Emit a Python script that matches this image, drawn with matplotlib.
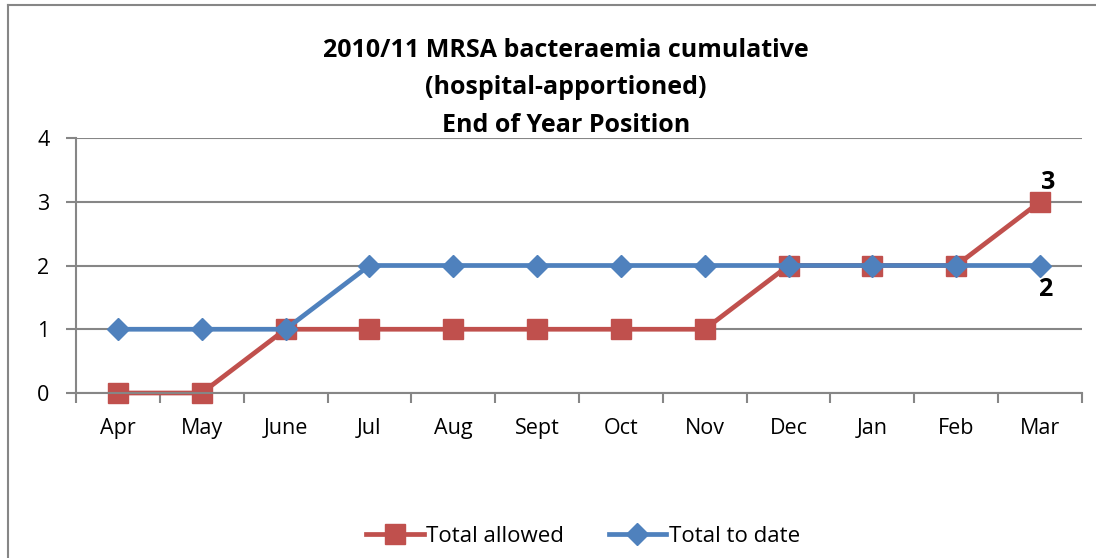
import matplotlib.pyplot as plt
import numpy as np
from matplotlib.lines import Line2D

months = ["Apr", "May", "June", "Jul", "Aug", "Sept", "Oct", "Nov", "Dec", "Jan", "Feb", "Mar"]
total_allowed = [0, 0, 1, 1, 1, 1, 1, 1, 2, 2, 2, 3]
total_to_date = [1, 1, 1, 2, 2, 2, 2, 2, 2, 2, 2, 2]

red = "#C0504D"
blue = "#4F81BD"
grey = "#868686"

plt.rcParams["font.family"] = ["Open Sans", "DejaVu Sans"]

fig = plt.figure(figsize=(10.96, 5.58), dpi=100)
ax = fig.add_axes([76 / 1096, 1 - 393 / 558, (1082 - 76) / 1096, (393 - 138) / 558])

# outer chart border (only top and left are visible in the crop)
fig.add_artist(Line2D([8 / 1096, 8 / 1096], [0, 1 - 5 / 558], color=grey, lw=1.5))
fig.add_artist(Line2D([8 / 1096, 1], [1 - 5 / 558, 1 - 5 / 558], color=grey, lw=1.5))

x = np.arange(len(months))
ax.plot(x, total_allowed, color=red, lw=3.4, marker="s", ms=14, label="Total allowed", clip_on=False)
ax.plot(x, total_to_date, color=blue, lw=3.4, marker="D", ms=11, label="Total to date", clip_on=False)

ax.set_xlim(-0.5, len(months) - 0.5)
ax.set_ylim(0, 4)
ax.set_yticks([0, 1, 2, 3, 4])
ax.set_xticks(x)
ax.set_xticklabels(months)
ax.set_xticks(np.arange(len(months) + 1) - 0.5, minor=True)
ax.tick_params(axis="x", which="major", length=0, pad=18, labelsize=15.5)
ax.tick_params(axis="x", which="minor", length=7, width=1.5, color=grey, direction="out")
ax.tick_params(axis="y", length=7, width=1.5, color=grey, pad=12, labelsize=15.5)

ax.grid(axis="y", color=grey, lw=1.5)
ax.set_axisbelow(True)
for s in ["top", "right"]:
    ax.spines[s].set_visible(False)
for s in ["left", "bottom"]:
    ax.spines[s].set_color(grey)
    ax.spines[s].set_linewidth(1.5)

# end-point data labels
ax.annotate(str(total_allowed[-1]), (x[-1], total_allowed[-1]), xytext=(6, 5),
            textcoords="offset points", ha="center", va="bottom", fontsize=18, fontweight="bold")
ax.annotate(str(total_to_date[-1]), (x[-1], total_to_date[-1]), xytext=(4, -8),
            textcoords="offset points", ha="center", va="top", fontsize=18, fontweight="bold")

fig.text(566 / 1096, 1 - 88 / 558, "2010/11 MRSA bacteraemia cumulative\n(hospital-apportioned)\nEnd of Year Position",
         ha="center", va="center", fontsize=18, fontweight="bold", linespacing=1.68)

fig.legend(loc="center", bbox_to_anchor=(583 / 1096, 1 - 536 / 558), ncol=2, frameon=False,
           fontsize=16, handlelength=2.6, handletextpad=0.1, columnspacing=2.0)

fig.savefig("out.png", dpi=100)
